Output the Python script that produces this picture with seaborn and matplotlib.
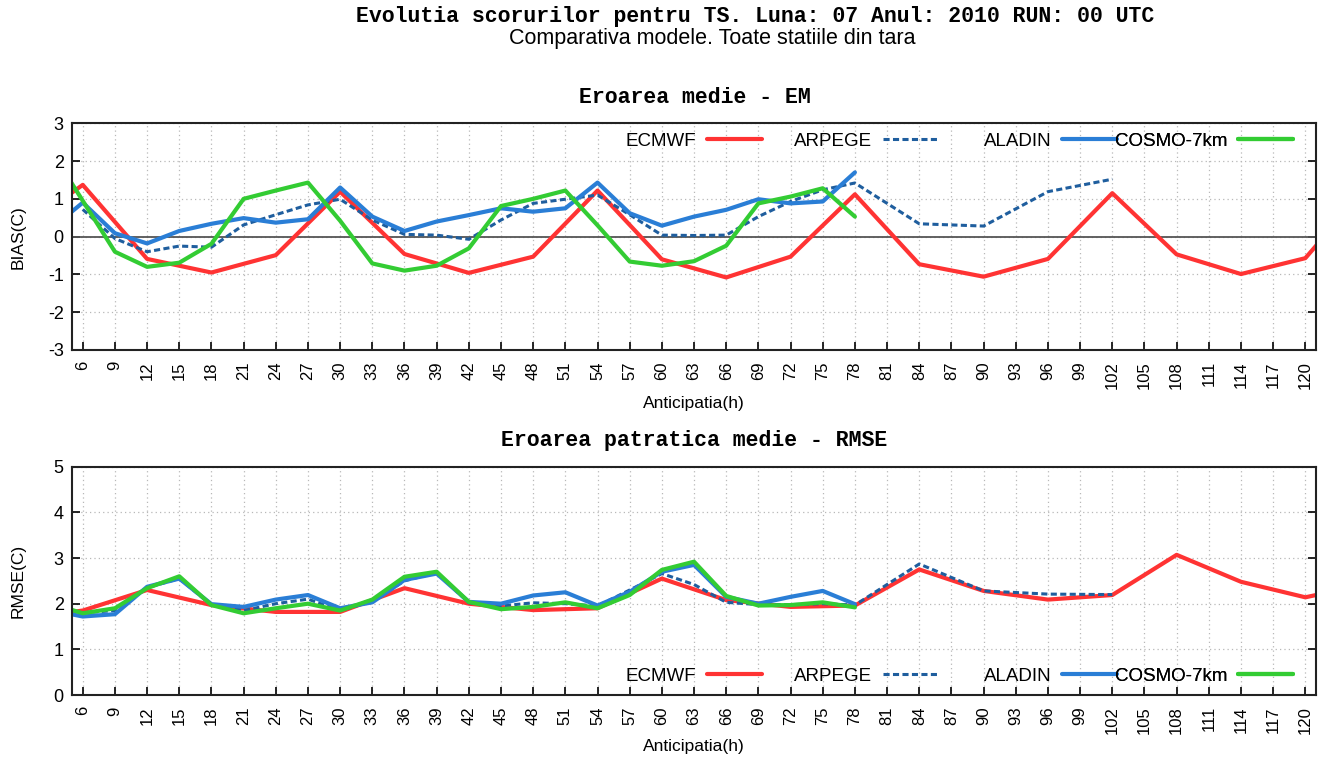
import numpy as np
import pandas as pd
import matplotlib
matplotlib.use("Agg")
import matplotlib.pyplot as plt
import seaborn as sns

# ---------------- data ----------------
hours_3h = list(range(3, 79, 3))            # ALADIN / COSMO (3 h steps)
hours_arpege = list(range(6, 79, 3)) + [84, 90, 96, 102]
hours_ecmwf = list(range(0, 127, 6))

bias_ecmwf = [0.15, 1.37, -0.59, -0.95, -0.49, 1.19, -0.46, -0.96, -0.53, 1.22,
              -0.60, -1.08, -0.53, 1.12, -0.73, -1.06, -0.59, 1.15, -0.47, -0.99,
              -0.57, 1.40]
bias_arpege = [0.72, -0.05, -0.40, -0.25, -0.28, 0.31, 0.58, 0.84, 0.99, 0.44,
               0.06, 0.04, -0.07, 0.44, 0.88, 0.99, 1.10, 0.58, 0.04, 0.03,
               0.04, 0.53, 0.93, 1.24, 1.42, 0.34, 0.28, 1.19, 1.52]
bias_aladin = [0.20, 0.90, 0.09, -0.18, 0.15, 0.34, 0.49, 0.37, 0.46, 1.30,
               0.53, 0.15, 0.40, 0.57, 0.75, 0.66, 0.75, 1.43, 0.62, 0.29,
               0.53, 0.71, 0.99, 0.88, 0.93, 1.70]
bias_cosmo = [2.30, 0.95, -0.40, -0.80, -0.69, -0.19, 1.00, 1.22, 1.43, 0.42,
              -0.71, -0.90, -0.77, -0.31, 0.81, 1.00, 1.22, 0.30, -0.66, -0.77,
              -0.65, -0.24, 0.88, 1.06, 1.28, 0.53]

rmse_ecmwf = [1.67, 1.85, 2.30, 1.97, 1.82, 1.82, 2.34, 2.00, 1.86, 1.90,
              2.55, 2.08, 1.93, 1.96, 2.75, 2.28, 2.09, 2.19, 3.07, 2.48,
              2.14, 2.44]
rmse_arpege = [1.80, 1.85, 2.35, 2.55, 1.97, 1.85, 2.00, 2.10, 1.85, 2.05,
               2.50, 2.68, 2.02, 1.95, 2.02, 2.00, 1.95, 2.30, 2.66, 2.42,
               2.03, 1.98, 1.98, 2.00, 1.97, 2.87, 2.28, 2.21, 2.20]
rmse_aladin = [1.86, 1.72, 1.77, 2.37, 2.55, 1.99, 1.93, 2.09, 2.19, 1.90,
               2.03, 2.52, 2.66, 2.04, 2.00, 2.18, 2.25, 1.96, 2.26, 2.70,
               2.85, 2.15, 2.00, 2.15, 2.28, 1.99]
rmse_cosmo = [2.01, 1.79, 1.90, 2.34, 2.60, 1.97, 1.79, 1.90, 2.00, 1.85,
              2.09, 2.59, 2.70, 2.04, 1.88, 1.93, 2.03, 1.90, 2.19, 2.74,
              2.92, 2.17, 1.96, 1.97, 2.03, 1.92]

models = ["ECMWF", "ARPEGE", "ALADIN", "COSMO-7km"]
xtick_hours = list(range(6, 121, 3))
bias_yticks = [-3, -2, -1, 0, 1, 2, 3]
rmse_yticks = [0, 1, 2, 3, 4, 5]

main_title = "Evolutia scorurilor pentru TS. Luna: 07 Anul: 2010 RUN: 00 UTC"
sub_title = "Comparativa modele. Toate statiile din tara"
title_bias = "Eroarea medie - EM"
title_rmse = "Eroarea patratica medie - RMSE"

# ---------------- style ----------------
sns.set_theme(style="white")
plt.rcParams["font.family"] = ["Liberation Sans", "DejaVu Sans"]
plt.rcParams["axes.unicode_minus"] = False
plt.rcParams["text.color"] = "black"
plt.rcParams["axes.labelcolor"] = "black"

colors = {"ECMWF": "#ff3333", "ARPEGE": "#1f5e9e",
          "ALADIN": "#2a7ed6", "COSMO-7km": "#33cc33"}
widths = {"ECMWF": 3.0, "ARPEGE": 2.2, "ALADIN": 3.0, "COSMO-7km": 3.0}
# right end of each legend sample, as a fraction of the axes width
legend_anchor_x = [0.5547, 0.6961, 0.8400, 0.9815]


def make_df(ecm, arp, ala, cos):
    parts = []
    for name, xs, ys in [("ECMWF", hours_ecmwf, ecm), ("ARPEGE", hours_arpege, arp),
                         ("ALADIN", hours_3h, ala), ("COSMO-7km", hours_3h, cos)]:
        parts.append(pd.DataFrame({"h": xs, "v": ys, "model": name}))
    return pd.concat(parts, ignore_index=True)


df_bias = make_df(bias_ecmwf, bias_arpege, bias_aladin, bias_cosmo)
df_rmse = make_df(rmse_ecmwf, rmse_arpege, rmse_aladin, rmse_cosmo)

fig = plt.figure(figsize=(13.24, 7.61), dpi=100)
ax1 = fig.add_axes([0.0544, 0.5401, 0.9396, 0.2979])
ax2 = fig.add_axes([0.0544, 0.0867, 0.9396, 0.3000])


def draw(ax, df, yticks, ylabel, legend_y, zero_line):
    ax.grid(True, color="#b8b8b8", linestyle=(0, (1, 2.5)), linewidth=0.9)
    ax.set_axisbelow(True)
    if zero_line:
        ax.axhline(0, color="#555555", linewidth=1.3, zorder=1.5)
    for m in models:
        sub = df[df["model"] == m]
        kw = dict(color=colors[m], linewidth=widths[m], label=m)
        if m == "ARPEGE":
            kw["dashes"] = (2.0, 1.1)
        sns.lineplot(data=sub, x="h", y="v", ax=ax, sort=False,
                     estimator=None, legend=False, **kw)
    ax.set_xlim(5, 121)
    ax.set_ylim(yticks[0], yticks[-1])
    ax.set_xticks(xtick_hours)
    ax.set_xticklabels([str(h) for h in xtick_hours], rotation=90)
    ax.set_yticks(yticks)
    ax.tick_params(axis="x", direction="in", length=6, width=1.2, pad=8,
                   labelsize=12, bottom=True, colors="black")
    ax.tick_params(axis="y", direction="in", length=6, width=1.2, pad=6,
                   labelsize=13, left=True, right=True, colors="black")
    for s in ax.spines.values():
        s.set_color("#222222")
        s.set_linewidth(1.5)
    ax.set_xlabel("Anticipatia(h)", fontsize=12.5)
    ax.set_ylabel(ylabel, fontsize=12.5)
    handles, labels = ax.get_legend_handles_labels()
    for h, lab, xa in zip(handles, labels, legend_anchor_x):
        leg = ax.legend([h], [lab], loc="center right", bbox_to_anchor=(xa, legend_y),
                        markerfirst=False, frameon=False, fontsize=13.5,
                        handlelength=2.95, handletextpad=0.55, borderpad=0,
                        borderaxespad=0, labelcolor="black")
        ax.add_artist(leg)


draw(ax1, df_bias, bias_yticks, "BIAS(C)", 0.922, True)
draw(ax2, df_rmse, rmse_yticks, "RMSE(C)", 0.083, False)

ax1.yaxis.set_label_coords(-0.037, 0.5)
ax2.yaxis.set_label_coords(-0.037, 0.5)
ax1.xaxis.set_label_coords(0.5, -0.205)
ax2.xaxis.set_label_coords(0.5, -0.192)

mono = ["Liberation Mono", "DejaVu Sans Mono"]
fig.text(0.570, 0.9777, main_title, ha="center", va="center",
         family=mono, weight="bold", fontsize=15.5)
fig.text(0.5378, 0.950, sub_title, ha="center", va="center",
         family=["Liberation Sans", "DejaVu Sans"], fontsize=15.5)
fig.text(0.525, 0.8725, title_bias, ha="center", va="center",
         family=mono, weight="bold", fontsize=15.5)
fig.text(0.524, 0.4205, title_rmse, ha="center", va="center",
         family=mono, weight="bold", fontsize=15.5)

fig.savefig("out.png", dpi=100)
